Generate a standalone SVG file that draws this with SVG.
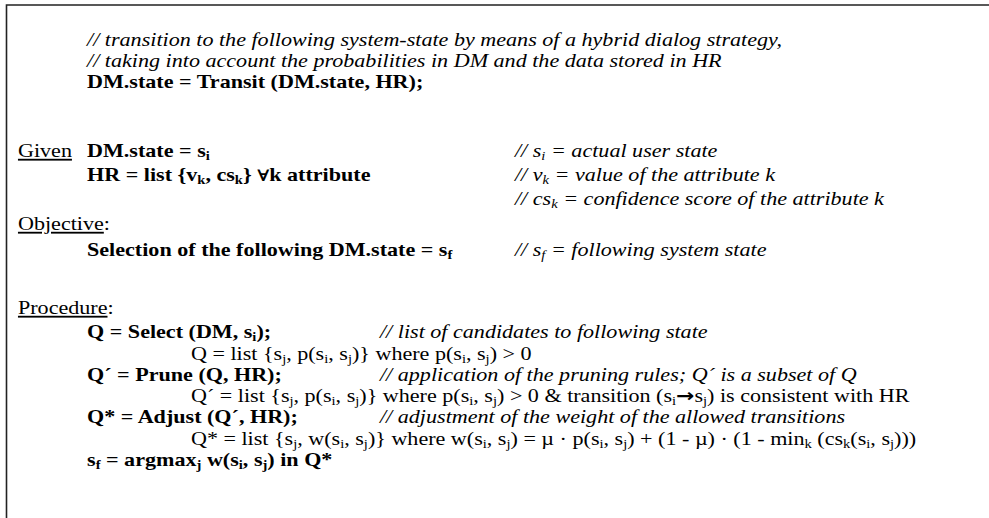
<svg xmlns="http://www.w3.org/2000/svg" width="989" height="518" viewBox="0 0 989 518">
<style>
text{font-family:"Liberation Serif","Times New Roman",serif;font-size:18.2px;fill:#000}
.b{font-weight:bold}
.i{font-style:italic}
.u{text-decoration:underline}
.sb{font-size:12px;baseline-shift:-3px}
.sym{font-family:"DejaVu Serif",serif;font-size:15.5px}
.arr{font-family:"DejaVu Sans",sans-serif;font-weight:bold;font-size:18px}
.frame{stroke:#222;stroke-width:1.6;fill:none}
</style>
<rect width="989" height="518" fill="#fff"/>
<path class="frame" d="M6.5 518 V5 H989"/>
<g transform="scale(1.214,1)">
<g id="header">
<text class="i" x="71.7" y="46">// transition to the following system-state by means of a hybrid dialog strategy,</text>
<text class="i" x="71.7" y="67">// taking into account the probabilities in DM and the data stored in HR</text>
<text class="b" x="71.7" y="88">DM.state = Transit (DM.state, HR);</text>
</g>
<g id="given">
<text x="14.8" y="157"><tspan class="u">Given</tspan></text>
<text class="b" x="71.7" y="157">DM.state = s<tspan class="sb">i</tspan></text>
<text class="b" x="71.7" y="181">HR = list {v<tspan class="sb">k</tspan>, cs<tspan class="sb">k</tspan>} <tspan class="sym">∀</tspan>k attribute</text>
<text class="i" x="424.2" y="157">// s<tspan class="sb">i</tspan> = actual user state</text>
<text class="i" x="424.2" y="181">// v<tspan class="sb">k</tspan> = value of the attribute k</text>
<text class="i" x="424.2" y="205">// cs<tspan class="sb">k</tspan> = confidence score of the attribute k</text>
</g>
<g id="objective">
<text x="14.8" y="230"><tspan class="u">Objective</tspan>:</text>
<text class="b" x="71.7" y="256">Selection of the following DM.state = s<tspan class="sb">f</tspan></text>
<text class="i" x="424.2" y="256">// s<tspan class="sb">f</tspan> = following system state</text>
</g>
<g id="procedure">
<text x="14.8" y="314"><tspan class="u">Procedure</tspan>:</text>
<text class="b" x="71.7" y="338">Q = Select (DM, s<tspan class="sb">i</tspan>);</text>
<text class="i" x="313" y="338">// list of candidates to following state</text>
<text x="157.3" y="360">Q = list {s<tspan class="sb">j</tspan>, p(s<tspan class="sb">i</tspan>, s<tspan class="sb">j</tspan>)} where p(s<tspan class="sb">i</tspan>, s<tspan class="sb">j</tspan>) &gt; 0</text>
<text class="b" x="71.7" y="381">Q´ = Prune (Q, HR);</text>
<text class="i" x="313" y="381">// application of the pruning rules; Q´ is a subset of Q</text>
<text x="157.3" y="402">Q´ = list {s<tspan class="sb">j</tspan>, p(s<tspan class="sb">i</tspan>, s<tspan class="sb">j</tspan>)} where p(s<tspan class="sb">i</tspan>, s<tspan class="sb">j</tspan>) &gt; 0 &amp; transition (s<tspan class="sb">i</tspan><tspan class="arr">→</tspan>s<tspan class="sb">j</tspan>) is consistent with HR</text>
<text class="b" x="71.7" y="423">Q* = Adjust (Q´, HR);</text>
<text class="i" x="313" y="423">// adjustment of the weight of the allowed transitions</text>
<text x="157.3" y="445">Q* = list {s<tspan class="sb">j</tspan>, w(s<tspan class="sb">i</tspan>, s<tspan class="sb">j</tspan>)} where w(s<tspan class="sb">i</tspan>, s<tspan class="sb">j</tspan>) = µ · p(s<tspan class="sb">i</tspan>, s<tspan class="sb">j</tspan>) + (1 - µ) · (1 - min<tspan class="sb">k</tspan> (cs<tspan class="sb">k</tspan>(s<tspan class="sb">i</tspan>, s<tspan class="sb">j</tspan>)))</text>
<text class="b" x="71.7" y="466">s<tspan class="sb">f</tspan> = argmax<tspan class="sb">j</tspan> w(s<tspan class="sb">i</tspan>, s<tspan class="sb">j</tspan>) in Q*</text>
</g>
</g>
</svg>
